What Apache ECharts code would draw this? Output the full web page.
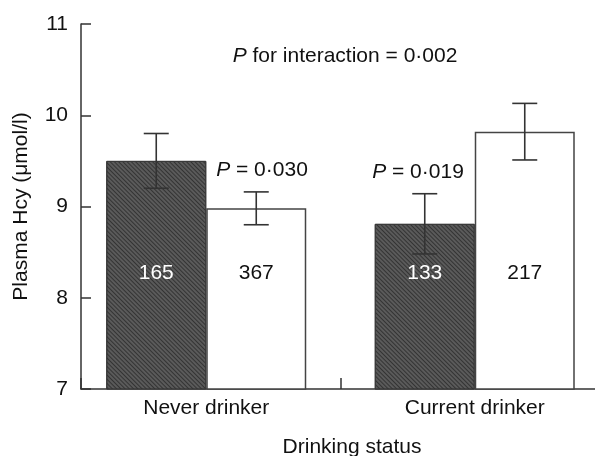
<!DOCTYPE html>
<html>
<head>
<meta charset="utf-8">
<script src="https://cdn.jsdelivr.net/npm/echarts@6/dist/echarts.min.js"></script>
<style>html,body{margin:0;padding:0;background:#fff}#c{width:595px;height:456px}</style>
</head>
<body>
<div id="c"></div>
<script>
var categories = ['Never drinker', 'Current drinker'];
var darkMeans = [9.5, 8.81];
var darkErr = [0.30, 0.33];
var whiteMeans = [8.98, 9.82];
var whiteErr = [0.18, 0.31];
var darkCounts = [165, 133];
var whiteCounts = [367, 217];
var yTicks = [7, 8, 9, 10, 11];

var FONT = 'Liberation Sans, Arial, Helvetica, sans-serif';
var FS = 21;
var BW = 100;

function errSeries(means, errs, side) {
  return {
    type: 'custom',
    xAxisIndex: 1, yAxisIndex: 1,
    z: 5,
    data: means.map(function (m, i) { return [i, m - errs[i], m + errs[i]]; }),
    renderItem: function (params, api) {
      var lo = api.coord([api.value(0), api.value(1)]);
      var hi = api.coord([api.value(0), api.value(2)]);
      var x = lo[0] + side * BW / 2;
      var hw = 12.5;
      var st = { stroke: '#333', lineWidth: 1.6 };
      return { type: 'group', children: [
        { type: 'line', shape: { x1: x, y1: lo[1], x2: x, y2: hi[1] }, style: st },
        { type: 'line', shape: { x1: x - hw, y1: lo[1], x2: x + hw, y2: lo[1] }, style: st },
        { type: 'line', shape: { x1: x - hw, y1: hi[1], x2: x + hw, y2: hi[1] }, style: st }
      ]};
    }
  };
}

var chart = echarts.init(document.getElementById('c'));
chart.setOption({
  animation: false,
  textStyle: { fontFamily: FONT },
  grid: [
    { left: 81, width: 519, top: 24, bottom: 67, containLabel: false, outerBoundsMode: 'none' },
    { left: 72, width: 537, top: 24, bottom: 67, containLabel: false, outerBoundsMode: 'none' }
  ],
  xAxis: [
    { type: 'category', gridIndex: 0, data: categories,
      axisLine: { show: true, lineStyle: { color: '#333', width: 1.5 } },
      axisTick: { show: true, inside: true, length: 11, lineStyle: { color: '#333', width: 1.5 } },
      axisLabel: { show: false } },
    { type: 'category', gridIndex: 1, data: categories,
      axisLine: { show: false },
      axisTick: { show: false },
      axisLabel: { color: '#111', fontSize: FS, fontFamily: FONT, margin: 9 },
      name: 'Drinking status', nameLocation: 'middle', nameGap: 48,
      nameTextStyle: { color: '#111', fontSize: FS, fontFamily: FONT, padding: [0, 0, 0, 23] } }
  ],
  yAxis: [
    { type: 'value', gridIndex: 0, min: yTicks[0], max: yTicks[yTicks.length - 1], interval: 1,
      axisLine: { show: true, lineStyle: { color: '#333', width: 1.5 } },
      axisTick: { show: true, inside: true, length: 10, lineStyle: { color: '#333', width: 1.5 } },
      axisLabel: { color: '#111', fontSize: FS, fontFamily: FONT, margin: 13 },
      splitLine: { show: false },
      name: 'Plasma Hcy (\u03bcmol/l)', nameLocation: 'middle', nameGap: 49,
      nameTextStyle: { color: '#111', fontSize: FS, fontFamily: FONT } },
    { type: 'value', gridIndex: 1, min: yTicks[0], max: yTicks[yTicks.length - 1], interval: 1, show: false }
  ],
  series: [
    { type: 'bar', xAxisIndex: 1, yAxisIndex: 1, data: darkMeans, barWidth: BW, barGap: '0%',
      itemStyle: { color: '#5a5a5a', borderColor: '#3a3a3a', borderWidth: 1,
        decal: { color: 'rgba(20,20,20,0.55)', dashArrayX: [[1, 0]], dashArrayY: [1, 2], rotation: Math.PI / 4, symbolSize: 1 } },
      label: { show: true, position: 'insideBottom', distance: 106, color: '#fff', fontSize: FS, fontFamily: FONT,
        formatter: function (p) { return darkCounts[p.dataIndex]; } } },
    { type: 'bar', xAxisIndex: 1, yAxisIndex: 1, data: whiteMeans, barWidth: BW, barGap: '0%',
      itemStyle: { color: '#fff', borderColor: '#444', borderWidth: 1.5 },
      label: { show: true, position: 'insideBottom', distance: 106, color: '#111', fontSize: FS, fontFamily: FONT,
        formatter: function (p) { return whiteCounts[p.dataIndex]; } } },
    errSeries(darkMeans, darkErr, -1),
    errSeries(whiteMeans, whiteErr, 1)
  ],
  graphic: [
    { type: 'text', x: 345, y: 56, style: { text: '{i|P} for interaction = 0\u00b7002', align: 'center', verticalAlign: 'middle',
      font: FS + 'px ' + FONT, fill: '#111', rich: { i: { fontStyle: 'italic', fontSize: FS, fontFamily: FONT, fill: '#111' } } } },
    { type: 'text', x: 262, y: 170, style: { text: '{i|P} = 0\u00b7030', align: 'center', verticalAlign: 'middle',
      font: FS + 'px ' + FONT, fill: '#111', rich: { i: { fontStyle: 'italic', fontSize: FS, fontFamily: FONT, fill: '#111' } } } },
    { type: 'text', x: 418, y: 172, style: { text: '{i|P} = 0\u00b7019', align: 'center', verticalAlign: 'middle',
      font: FS + 'px ' + FONT, fill: '#111', rich: { i: { fontStyle: 'italic', fontSize: FS, fontFamily: FONT, fill: '#111' } } } }
  ]
});
</script>
</body>
</html>
